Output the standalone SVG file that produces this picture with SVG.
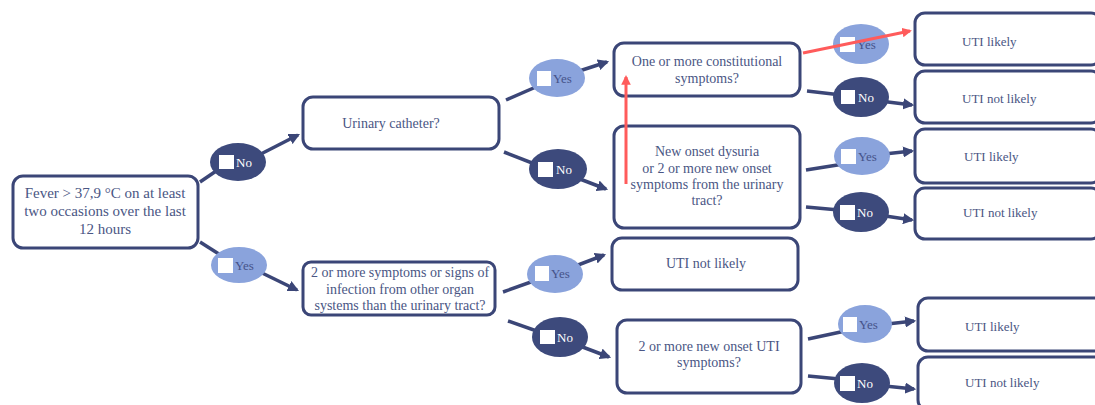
<svg xmlns="http://www.w3.org/2000/svg" width="1095" height="405" viewBox="0 0 1095 405">
<defs>
<marker id="ah" viewBox="0 0 10 10" refX="8" refY="5" markerWidth="3.2" markerHeight="3.2" orient="auto" markerUnits="strokeWidth">
<path d="M0,0 L10,5 L0,10 z" fill="#3b4677"/>
</marker>
<marker id="ahr" viewBox="0 0 10 10" refX="8" refY="5" markerWidth="3.2" markerHeight="3.2" orient="auto" markerUnits="strokeWidth">
<path d="M0,0 L10,5 L0,10 z" fill="#ff5b5b"/>
</marker>
</defs>
<style>
.box{fill:#fff;stroke:#3b4677;stroke-width:3}
.t{font-family:"Liberation Serif","DejaVu Serif",serif;font-size:14px;fill:#4a5684;text-anchor:middle}
.big{font-size:15px}
.l{font-family:"Liberation Serif","DejaVu Serif",serif;font-size:13px;fill:#4a5684}
.c{stroke:#3b4677;stroke-width:3.5;fill:none;stroke-linecap:butt}
.ca{stroke:#3b4677;stroke-width:3.5;fill:none;marker-end:url(#ah)}
.red{stroke:#ff5b5b;stroke-width:3;fill:none;marker-end:url(#ahr)}
.yes{fill:#8aa3dc}
.no{fill:#3d4a7c}
.sq{fill:#fff}
.yt{font-family:"Liberation Serif","DejaVu Serif",serif;font-size:13px;fill:#46538a}
.nt{font-family:"Liberation Serif","DejaVu Serif",serif;font-size:13px;fill:#fff}
</style>
<rect width="1095" height="405" fill="#fff"/>
<g id="connectors">
<line class="c" x1="200" y1="182" x2="222" y2="167"/>
<line class="ca" x1="255" y1="157" x2="298" y2="135"/>
<line class="c" x1="200" y1="242" x2="222" y2="256"/>
<line class="ca" x1="258" y1="271" x2="297" y2="290"/>
<line class="c" x1="506" y1="100" x2="545" y2="83"/>
<line class="ca" x1="570" y1="74" x2="607" y2="62"/>
<line class="c" x1="504" y1="152" x2="545" y2="168"/>
<line class="ca" x1="572" y1="176" x2="606" y2="189"/>
<line class="c" x1="807" y1="91" x2="850" y2="96"/>
<line class="ca" x1="872" y1="100" x2="912" y2="105"/>
<line class="c" x1="806" y1="170" x2="850" y2="163"/>
<line class="ca" x1="875" y1="155" x2="912" y2="151"/>
<line class="c" x1="806" y1="207" x2="850" y2="211"/>
<line class="ca" x1="872" y1="214" x2="912" y2="220"/>
<line class="c" x1="503" y1="292" x2="545" y2="277"/>
<line class="ca" x1="565" y1="270" x2="604" y2="255"/>
<line class="c" x1="508" y1="321" x2="548" y2="335"/>
<line class="ca" x1="572" y1="343" x2="609" y2="357"/>
<line class="c" x1="808" y1="339" x2="850" y2="330"/>
<line class="ca" x1="878" y1="325" x2="914" y2="321"/>
<line class="c" x1="808" y1="376" x2="850" y2="380"/>
<line class="ca" x1="875" y1="385" x2="914" y2="389"/>
</g>
<g id="fever"><rect class="box" x="13" y="176" width="185" height="72" rx="10"/>
<text class="t big" x="105" y="198">Fever &gt; 37,9 °C on at least</text>
<text class="t big" x="105" y="216">two occasions over the last</text>
<text class="t big" x="105" y="234">12 hours</text></g>
<g id="catheter"><rect class="box" x="303" y="97" width="196" height="52" rx="10"/>
<text class="t" x="391" y="128">Urinary catheter?</text></g>
<g id="other"><rect class="box" x="303" y="262" width="192" height="53" rx="8"/>
<text class="t" x="400" y="277">2 or more symptoms or signs of</text>
<text class="t" x="400" y="294">infection from other organ</text>
<text class="t" x="400" y="310">systems than the urinary tract?</text></g>
<g id="constitutional"><rect class="box" x="614" y="43" width="186" height="53" rx="10"/>
<text class="t" x="707" y="66">One or more constitutional</text>
<text class="t" x="707" y="83">symptoms?</text></g>
<g id="dysuria"><rect class="box" x="614" y="126" width="186" height="102" rx="10"/>
<text class="t" x="707" y="156">New onset dysuria</text>
<text class="t" x="707" y="173">or 2 or more new onset</text>
<text class="t" x="707" y="189">symptoms from the urinary</text>
<text class="t" x="707" y="205">tract?</text></g>
<g id="notlikely-mid"><rect class="box" x="612" y="238" width="186" height="52" rx="10"/>
<text class="t" x="706" y="268">UTI not likely</text></g>
<g id="newonset"><rect class="box" x="617" y="320" width="184" height="73" rx="10"/>
<text class="t" x="709" y="351">2 or more new onset UTI</text>
<text class="t" x="709" y="367">symptoms?</text></g>
<g id="r1"><rect class="box" x="915" y="13" width="186" height="52" rx="10"/>
<text class="l" x="962" y="46">UTI likely</text></g>
<g id="r2"><rect class="box" x="915" y="71" width="186" height="52" rx="10"/>
<text class="l" x="962" y="103">UTI not likely</text></g>
<g id="r3"><rect class="box" x="915" y="129" width="186" height="54" rx="10"/>
<text class="l" x="964" y="161">UTI likely</text></g>
<g id="r4"><rect class="box" x="915" y="188" width="186" height="51" rx="10"/>
<text class="l" x="963" y="217">UTI not likely</text></g>
<g id="r5"><rect class="box" x="918" y="298" width="186" height="53" rx="10"/>
<text class="l" x="965" y="331">UTI likely</text></g>
<g id="r6"><rect class="box" x="918" y="357" width="186" height="53" rx="10"/>
<text class="l" x="965" y="387">UTI not likely</text></g>
<g id="o1"><ellipse class="no" cx="238" cy="162" rx="28" ry="19"/><rect class="sq" x="219" y="155" width="15" height="14"/><text class="nt" x="236" y="167">No</text></g>
<g id="o2"><ellipse class="yes" cx="239" cy="265" rx="28" ry="18"/><rect class="sq" x="218" y="258" width="15" height="15"/><text class="yt" x="235" y="270">Yes</text></g>
<g id="o3"><ellipse class="yes" cx="557" cy="78" rx="28" ry="19"/><rect class="sq" x="537" y="71" width="14" height="15"/><text class="yt" x="553" y="83">Yes</text></g>
<g id="o4"><ellipse class="no" cx="558" cy="169" rx="29" ry="20"/><rect class="sq" x="538" y="162" width="15" height="15"/><text class="nt" x="556" y="174">No</text></g>
<g id="o5"><ellipse class="yes" cx="861" cy="44" rx="28" ry="20"/><rect class="sq" x="840" y="37" width="15" height="15"/><text class="yt" x="857" y="49">Yes</text></g>
<g id="o6"><ellipse class="no" cx="861" cy="97" rx="28" ry="20"/><rect class="sq" x="841" y="90" width="14" height="14"/><text class="nt" x="858" y="102">No</text></g>
<g id="o7"><ellipse class="yes" cx="862" cy="156" rx="28" ry="19"/><rect class="sq" x="841" y="149" width="15" height="15"/><text class="yt" x="858" y="161">Yes</text></g>
<g id="o8"><ellipse class="no" cx="861" cy="212" rx="28" ry="20"/><rect class="sq" x="840" y="205" width="15" height="15"/><text class="nt" x="857" y="217">No</text></g>
<g id="o9"><ellipse class="yes" cx="555" cy="274" rx="28" ry="19"/><rect class="sq" x="535" y="266" width="14" height="15"/><text class="yt" x="551" y="278">Yes</text></g>
<g id="o10"><ellipse class="no" cx="560" cy="337" rx="28" ry="20"/><rect class="sq" x="540" y="330" width="15" height="14"/><text class="nt" x="557" y="342">No</text></g>
<g id="o11"><ellipse class="yes" cx="865" cy="324" rx="27" ry="19"/><rect class="sq" x="843" y="317" width="14" height="15"/><text class="yt" x="859" y="329">Yes</text></g>
<g id="o12"><ellipse class="no" cx="862" cy="383" rx="28" ry="20"/><rect class="sq" x="840" y="376" width="15" height="15"/><text class="nt" x="857" y="388">No</text></g>
<g id="red-connectors">
<line class="red" x1="626" y1="184" x2="626" y2="77"/>
<line class="red" x1="803" y1="53" x2="910" y2="31"/>
</g>
</svg>
